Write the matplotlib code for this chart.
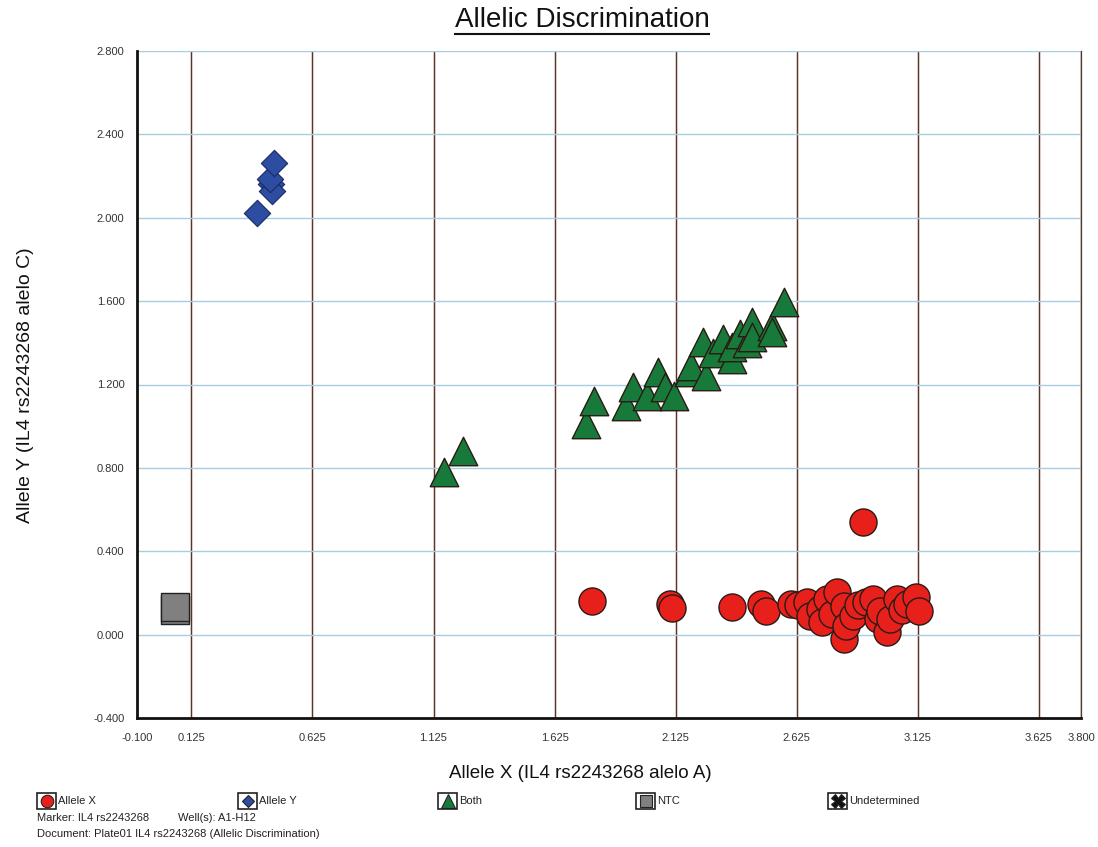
import numpy as np
import matplotlib
matplotlib.use('Agg')
import matplotlib.pyplot as plt
from matplotlib.lines import Line2D
from matplotlib.patches import Rectangle

plt.rcParams['font.family'] = ['Liberation Sans', 'DejaVu Sans']

# ---- data ----
# Allele X (red circles)
alleleX_x = [1.78, 2.10, 2.11, 2.36, 2.48, 2.50, 2.60, 2.63, 2.67, 2.68, 2.72, 2.73,
             2.75, 2.77, 2.79, 2.82, 2.82, 2.83, 2.86, 2.88, 2.90, 2.91, 2.94, 2.96,
             2.97, 3.00, 3.01, 3.04, 3.06, 3.08, 3.12, 3.13]
alleleX_y = [0.163, 0.149, 0.129, 0.134, 0.149, 0.115, 0.149, 0.140, 0.158, 0.091, 0.125, 0.062,
             0.173, 0.100, 0.206, 0.139, -0.019, 0.043, 0.091, 0.140, 0.542, 0.158, 0.173, 0.077,
             0.115, 0.014, 0.077, 0.173, 0.120, 0.149, 0.182, 0.115]

# Allele Y (blue diamonds)
alleleY_x = [0.394, 0.452, 0.456, 0.448, 0.468]
alleleY_y = [2.024, 2.160, 2.129, 2.187, 2.264]

# Both (green triangles)
both_x = [1.167, 1.245, 1.753, 1.786, 1.922, 1.948, 2.005, 2.051, 2.080, 2.117, 2.180, 2.190,
          2.237, 2.250, 2.280, 2.320, 2.357, 2.360, 2.390, 2.420, 2.440, 2.440, 2.525, 2.525, 2.575]
both_y = [0.782, 0.883, 1.012, 1.122, 1.098, 1.189, 1.146, 1.261, 1.190, 1.146, 1.260, 1.290,
          1.405, 1.240, 1.350, 1.420, 1.320, 1.380, 1.440, 1.400, 1.500, 1.430, 1.480, 1.450, 1.597]

# NTC (grey squares)
ntc_x = [0.055, 0.055]
ntc_y = [0.118, 0.134]

xticks = [-0.100, 0.125, 0.625, 1.125, 1.625, 2.125, 2.625, 3.125, 3.625, 3.800]
yticks = [-0.400, 0.000, 0.400, 0.800, 1.200, 1.600, 2.000, 2.400, 2.800]

W, H = 1098, 847
fig = plt.figure(figsize=(W / 100, H / 100), dpi=100)

def fx(px):
    return px / W

def fy(py):
    return 1 - py / H

ax = fig.add_axes([fx(137), fy(718), fx(1081) - fx(137), fy(51) - fy(718)])
ax.set_xlim(-0.1, 3.8)
ax.set_ylim(-0.4, 2.8)
ax.set_xticks(xticks)
ax.set_yticks(yticks)
ax.set_xticklabels(['%.3f' % v for v in xticks])
ax.set_yticklabels(['%.3f' % v for v in yticks])
ax.tick_params(length=0, labelsize=8, labelcolor='#333333')
ax.tick_params(axis='x', pad=11)
ax.tick_params(axis='y', pad=9)

# grid: vertical dark (slight red fringe), horizontal light blue
for v in xticks[1:]:
    ax.axvline(v, color='#f7d6cc', lw=1.8, zorder=0.5)
    ax.axvline(v, color='#4a3a36', lw=0.9, zorder=0.6)
for v in yticks[1:]:
    ax.axhline(v, color='#a9cde0', lw=1.0, zorder=0.6)

ax.spines['top'].set_visible(False)
ax.spines['right'].set_color('#4a3a36')
ax.spines['right'].set_linewidth(0.9)
ax.spines['left'].set_linewidth(2.0)
ax.spines['bottom'].set_linewidth(2.0)
ax.spines['left'].set_color('#111111')
ax.spines['bottom'].set_color('#111111')

ec = '#2a1a14'
ax.scatter(ntc_x, ntc_y, marker='s', s=390, c='#808080', edgecolors='#222222', linewidths=1.0, zorder=3)
ax.scatter(alleleY_x, alleleY_y, marker='D', s=180, c='#2d4da3', edgecolors='#1a2a60', linewidths=0.8, zorder=3)
ax.scatter(both_x, both_y, marker='^', s=420, c='#17793a', edgecolors=ec, linewidths=1.0, zorder=3)
ax.scatter(alleleX_x, alleleX_y, marker='o', s=380, c='#e8201c', edgecolors=ec, linewidths=1.0, zorder=3)

# title with underline
t = fig.text(fx(582), fy(20), 'Allelic Discrimination', fontsize=20, ha='center', va='center', color='#111111')
fig.canvas.draw()
bb = t.get_window_extent()
fig.add_artist(Line2D([bb.x0 / W, bb.x1 / W], [(bb.y0 - 1) / H, (bb.y0 - 1) / H], color='#111111', lw=1.5))

fig.text(fx(580), fy(773), 'Allele X (IL4 rs2243268 alelo A)', fontsize=13.5, ha='center', va='center', color='#111111')
fig.text(fx(26), fy(385), 'Allele Y (IL4 rs2243268 alelo C)', fontsize=14, ha='center', va='center',
         rotation=90, color='#111111')

# legend row
legend_items = [
    (37, 'Allele X', 'o', '#e8201c', 9),
    (238, 'Allele Y', 'D', '#2d4da3', 6.5),
    (438, 'Both', '^', '#17793a', 10),
    (636, 'NTC', 's', '#808080', 8),
    (828, 'Undetermined', 'X', '#111111', 10),
]
for x0, lab, mk, col, ms in legend_items:
    fig.add_artist(Rectangle((fx(x0), fy(809)), fx(19), fy(793) - fy(809),
                             transform=fig.transFigure, fill=False, ec='#222222', lw=1.2))
    fig.add_artist(Line2D([fx(x0 + 9.5)], [fy(801)], marker=mk, ms=ms, mfc=col, mec='#222222',
                          mew=0.8, ls='none'))
    fig.text(fx(x0 + 21), fy(801), lab, fontsize=8, ha='left', va='center', color='#222222')

fig.text(fx(37), fy(818), 'Marker: IL4 rs2243268', fontsize=8, ha='left', va='center', color='#222222')
fig.text(fx(178), fy(818), 'Well(s): A1-H12', fontsize=8, ha='left', va='center', color='#222222')
fig.text(fx(37), fy(834), 'Document: Plate01 IL4 rs2243268 (Allelic Discrimination)', fontsize=8,
         ha='left', va='center', color='#222222')

fig.savefig('out.png', dpi=100)
